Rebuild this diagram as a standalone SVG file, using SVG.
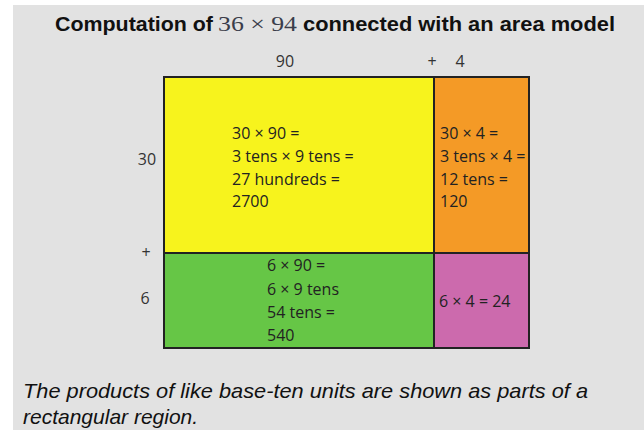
<svg xmlns="http://www.w3.org/2000/svg" width="644" height="430" viewBox="0 0 644 430">
<style>
.bg{fill:#e2e2e2}
.cell{stroke:#222;stroke-width:2}
.t{font-family:"Open Sans","Noto Sans",sans-serif;font-size:16px;fill:#222}
.lab{font-family:"Open Sans","Noto Sans",sans-serif;font-size:16px;fill:#333}
.title{font-family:"Liberation Sans",Arial,sans-serif;font-weight:bold;font-size:21px;fill:#111}
.math{font-family:"Liberation Serif","DejaVu Serif",serif;font-size:21px;fill:#3a3d4a}
.cap{font-family:"Liberation Sans",Arial,sans-serif;font-style:italic;font-size:21px;fill:#111}
</style>
<rect x="0" y="0" width="644" height="430" fill="#ffffff"/>
<rect class="bg" x="13" y="5" width="631" height="425"/>
<g id="title">
<text class="title" x="55" y="31" textLength="158" lengthAdjust="spacingAndGlyphs">Computation of</text>
<text class="math" x="218" y="31" textLength="79" lengthAdjust="spacingAndGlyphs">36 × 94</text>
<text class="title" x="303" y="31" textLength="312" lengthAdjust="spacingAndGlyphs">connected with an area model</text>
</g>
<g id="labels">
<text class="lab" x="285" y="67" text-anchor="middle">90</text>
<text class="lab" x="432" y="67" text-anchor="middle">+</text>
<text class="lab" x="460" y="67" text-anchor="middle">4</text>
<text class="lab" x="147" y="165" text-anchor="middle">30</text>
<text class="lab" x="146" y="258" text-anchor="middle">+</text>
<text class="lab" x="145" y="304" text-anchor="middle">6</text>
</g>
<g id="cell-30x90">
<rect class="cell" x="164" y="77" width="270" height="176" fill="#f7f31d"/>
<text class="t" x="232" y="139">30 × 90 =</text>
<text class="t" x="232" y="162">3 tens × 9 tens =</text>
<text class="t" x="232" y="185">27 hundreds =</text>
<text class="t" x="232" y="207">2700</text>
</g>
<g id="cell-30x4">
<rect class="cell" x="434" y="77" width="95" height="176" fill="#f49a26"/>
<text class="t" x="440" y="139">30 × 4 =</text>
<text class="t" x="440" y="162">3 tens × 4 =</text>
<text class="t" x="440" y="185">12 tens =</text>
<text class="t" x="440" y="207">120</text>
</g>
<g id="cell-6x90">
<rect class="cell" x="164" y="253" width="270" height="95" fill="#66c646"/>
<text class="t" x="267" y="271">6 × 90 =</text>
<text class="t" x="267" y="295">6 × 9 tens</text>
<text class="t" x="267" y="318">54 tens =</text>
<text class="t" x="267" y="341">540</text>
</g>
<g id="cell-6x4">
<rect class="cell" x="434" y="253" width="95" height="95" fill="#cc6aad"/>
<text class="t" x="439" y="307">6 × 4 = 24</text>
</g>
<g id="caption">
<text class="cap" x="23" y="398" textLength="565" lengthAdjust="spacingAndGlyphs">The products of like base-ten units are shown as parts of a</text>
<text class="cap" x="23" y="424">rectangular region.</text>
</g>
</svg>
